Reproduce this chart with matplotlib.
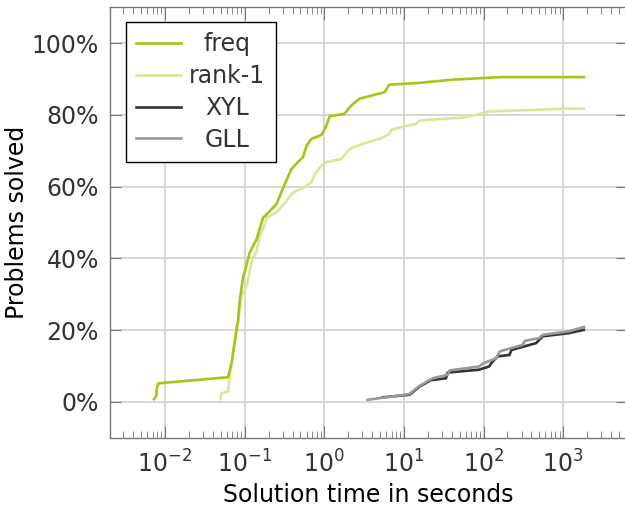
import math
import matplotlib
matplotlib.use('Agg')
import matplotlib.pyplot as plt
from matplotlib.ticker import FixedLocator, FuncFormatter, LogLocator, NullFormatter

# --- data (time in seconds, percent solved) ---
freq_t = [0.0073, 0.0078, 0.0079, 0.0083, 0.062, 0.0686, 0.083, 0.087, 0.096, 0.101,
          0.116, 0.141, 0.171, 0.18, 0.251, 0.319, 0.387, 0.444, 0.54, 0.60, 0.69,
          0.92, 1.05, 1.17, 1.8, 2.19, 2.78, 3.7, 5.7, 6.6, 15.7, 41, 165, 1820]
freq_y = [0.8, 1.7, 3.9, 5.2, 6.9, 10.9, 22.9, 28.5, 35.0, 36.5,
          41.6, 45.3, 51.4, 51.8, 55.1, 60.7, 64.9, 66.3, 68.2, 71.4, 73.3,
          74.4, 76.6, 79.6, 80.3, 82.6, 84.5, 85.2, 86.3, 88.4, 88.9, 89.8, 90.5, 90.5]

rank_t = [0.050, 0.051, 0.062, 0.065, 0.071, 0.079, 0.083, 0.091, 0.106, 0.122,
          0.131, 0.140, 0.155, 0.179, 0.19, 0.25, 0.335, 0.405, 0.516, 0.69,
          0.76, 0.92, 1.05, 1.64, 2.09, 3.05, 4.94, 6.6, 7.0, 14.2, 15.7, 60,
          117, 1070, 1820]
rank_y = [0.8, 2.4, 2.9, 7.1, 12.7, 21.0, 22.5, 29.5, 32.3, 38.8,
          40.6, 41.6, 46.2, 49.5, 51.4, 52.8, 56.0, 58.4, 59.3, 61.2,
          63.5, 65.8, 66.8, 67.7, 70.5, 71.9, 73.3, 74.7, 75.9, 77.5, 78.4, 79.3,
          80.9, 81.7, 81.7]

xyl_t = [5.4, 11.7, 12.4, 15.7, 22, 33.8, 35.5, 88, 118, 125, 150, 211, 225,
         457, 555, 1190, 1820]
xyl_y = [1.3, 2.0, 2.4, 4.3, 6.1, 6.6, 8.2, 9.0, 9.9, 10.8, 12.7, 13.1, 14.5,
         16.4, 18.3, 19.2, 20.1]

gll_t = [3.5, 11.7, 15.7, 23, 35.5, 37.5, 88, 100, 144, 160, 310, 330, 500,
         555, 1190, 1820]
gll_y = [0.6, 2.2, 4.5, 6.6, 7.6, 8.8, 9.9, 10.8, 12.2, 14.1, 15.9, 17.0, 17.8,
         18.7, 19.7, 20.9]

y_ticks = [0, 20, 40, 60, 80, 100]
x_ticks = [1e-2, 1e-1, 1e0, 1e1, 1e2, 1e3]


def pow10_label(v, _):
    return r'$10^{%d}$' % round(math.log10(v))


plt.rcParams['font.family'] = ['DejaVu Sans']
plt.rcParams['mathtext.fontset'] = 'dejavusans'
plt.rcParams['text.color'] = '#333333'
FS = 17

fig = plt.figure(figsize=(6.25, 5.08), dpi=100)
ax = fig.add_axes([0.176, 0.138, 0.827, 0.848])

ax.plot(freq_t, freq_y, color='#a6c41a', lw=1.9, label='freq', zorder=4)
ax.plot(rank_t, rank_y, color='#d9e896', lw=1.9, label='rank-1', zorder=3)
ax.plot(xyl_t, xyl_y, color='#333333', lw=1.9, label='XYL', zorder=3)
ax.plot(gll_t, gll_y, color='#999999', lw=1.9, label='GLL', zorder=4)

ax.set_xscale('log')
ax.set_xlim(10 ** -2.69, 10 ** 3.80)
ax.set_ylim(-10, 110)

ax.xaxis.set_major_locator(FixedLocator(x_ticks))
ax.xaxis.set_minor_locator(LogLocator(base=10, subs=range(2, 10), numticks=20))
ax.xaxis.set_minor_formatter(NullFormatter())
ax.xaxis.set_major_formatter(FuncFormatter(pow10_label))
ax.yaxis.set_major_locator(FixedLocator(y_ticks))
ax.yaxis.set_major_formatter(FuncFormatter(lambda v, _: f'{v:.0f}%'))

ax.grid(True, which='major', color='#d0d0d0', lw=1.2)
ax.set_axisbelow(True)
for s in ax.spines.values():
    s.set_color('#777777')
    s.set_linewidth(1.0)

ax.tick_params(axis='both', which='both', direction='in', colors='#777777',
               labelcolor='#333333', labelsize=FS)
ax.tick_params(axis='x', which='major', length=9, top=True, bottom=True, pad=9)
ax.tick_params(axis='x', which='minor', length=5, top=True, bottom=True)
ax.tick_params(axis='y', which='major', length=8, left=True, right=True, pad=8)

ax.set_xlabel('Solution time in seconds', fontsize=FS, labelpad=4)
ax.set_ylabel('Problems solved', fontsize=FS, labelpad=2)

leg = ax.legend(loc='upper left', bbox_to_anchor=(0.03, 0.966), fontsize=FS,
                frameon=True, fancybox=False, edgecolor='black', framealpha=1,
                handlelength=1.9, handletextpad=0.35, labelspacing=0.33,
                borderpad=0.45, borderaxespad=0.0)
leg.get_frame().set_linewidth(1.0)

# centre the legend labels in their column
renderer = fig.canvas.get_renderer()
widths = [t.get_window_extent(renderer).width for t in leg.get_texts()]
wmax = max(widths)
for t, w in zip(leg.get_texts(), widths):
    t.set_position(((wmax - w) / 2, 0))

fig.savefig('out.png', dpi=100)
